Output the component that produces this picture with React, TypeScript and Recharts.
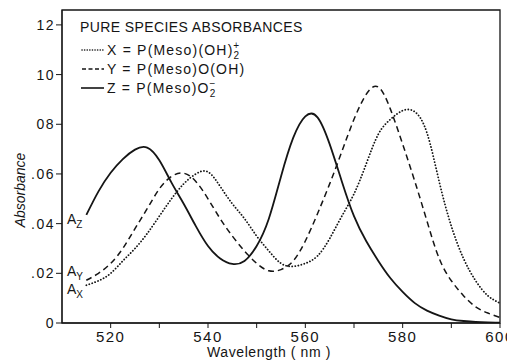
import React from "react";
import {
  LineChart,
  Line,
  XAxis,
  YAxis,
  ReferenceArea,
} from "recharts";

// wavelength grid (nm)
const wavelengths = [
  515, 517.5, 520, 522.5, 525, 527.5, 530, 532.5, 535, 537.5, 540, 542.5,
  545, 547.5, 550, 552.5, 555, 557.5, 560, 562.5, 565, 567.5, 570, 572.5,
  575, 577.5, 580, 582.5, 585, 587.5, 590, 592.5, 595, 597.5, 600,
];

// X = P(Meso)(OH)2+  (dotted)
const absX = [
  0.0152, 0.017, 0.02, 0.025, 0.03, 0.036, 0.043, 0.05, 0.056, 0.06, 0.0608, 0.055,
  0.048, 0.042, 0.035, 0.029, 0.024, 0.0228, 0.024, 0.027, 0.034, 0.043, 0.052, 0.064,
  0.076, 0.082, 0.0855, 0.085, 0.0765, 0.057, 0.039, 0.026, 0.017, 0.011, 0.008,
];

// Y = P(Meso)O(OH)  (dashed)
const absY = [
  0.0172, 0.02, 0.024, 0.03, 0.038, 0.046, 0.054, 0.059, 0.0603, 0.057, 0.05, 0.042,
  0.035, 0.029, 0.024, 0.021, 0.0215, 0.025, 0.033, 0.044, 0.056, 0.069, 0.082, 0.092,
  0.095, 0.086, 0.072, 0.057, 0.041, 0.026, 0.017, 0.011, 0.0065, 0.004, 0.0022,
];

// Z = P(Meso)O2-  (solid)
const absZ = [
  0.0435, 0.053, 0.0605, 0.066, 0.0698, 0.0706, 0.0655, 0.0565, 0.048, 0.039, 0.031, 0.026,
  0.0238, 0.025, 0.031, 0.042, 0.059, 0.0745, 0.0832, 0.0828, 0.072, 0.057, 0.043, 0.033,
  0.025, 0.018, 0.0125, 0.008, 0.005, 0.003, 0.0015, 0.0008, 0.0004, 0.0002, 0.0001,
];

const xTicks = [520, 530, 540, 550, 560, 570, 580, 590, 600];
const xTickLabels = ["520", "", "540", "", "560", "", "580", "", "600"];
const yTicks = [0, 0.02, 0.04, 0.06, 0.08, 0.1, 0.12];
const yTickLabels = ["0", ".02", ".04", ".06", "08", "10", "12"];

const INK = "#151515";
const FONT = "'Liberation Sans', Arial, sans-serif";

const data = wavelengths.map((w, i) => ({
  nm: w,
  x: absX[i],
  y: absY[i],
  z: absZ[i],
}));

export default function App() {
  return (
    <div style={{ position: "relative", width: 507, height: 352, fontFamily: FONT }}>
      <LineChart
        width={507}
        height={352}
        data={data}
        margin={{ top: 2, right: 15, bottom: 7, left: 14 }}
      >
        <XAxis
          dataKey="nm"
          type="number"
          domain={[510, 600]}
          ticks={xTicks}
          tickFormatter={(v) => xTickLabels[xTicks.indexOf(v)] ?? ""}
          height={30}
          tickSize={5}
          tickMargin={3}
          stroke={INK}
          tick={{ fill: INK, fontSize: 15, fontFamily: FONT, letterSpacing: 1.5 }}
          allowDataOverflow
        />
        <YAxis
          type="number"
          domain={[0, 0.126]}
          ticks={yTicks}
          tickFormatter={(v) => yTickLabels[yTicks.indexOf(v)] ?? ""}
          width={40}
          tickSize={6}
          tickMargin={1}
          stroke={INK}
          tick={{ fill: INK, fontSize: 14, fontFamily: FONT, letterSpacing: 1.5 }}
          allowDataOverflow
        />
        <ReferenceArea
          x1={510}
          x2={600}
          y1={0}
          y2={0.126}
          fill="none"
          stroke={INK}
          strokeWidth={1.3}
          ifOverflow="visible"
        />
        <Line
          dataKey="x"
          type="natural"
          stroke={INK}
          strokeWidth={1.8}
          strokeDasharray="0.1 3"
          strokeLinecap="round"
          dot={false}
          isAnimationActive={false}
        />
        <Line
          dataKey="y"
          type="natural"
          stroke={INK}
          strokeWidth={1.5}
          strokeDasharray="6 4"
          dot={false}
          isAnimationActive={false}
        />
        <Line
          dataKey="z"
          type="natural"
          stroke={INK}
          strokeWidth={1.8}
          dot={false}
          isAnimationActive={false}
        />
      </LineChart>

      <svg
        width={507}
        height={352}
        style={{ position: "absolute", left: 0, top: 0, pointerEvents: "none" }}
        fontFamily={FONT}
        fill={INK}
      >
        {/* legend */}
        <text x={72} y={24} fontSize={14} letterSpacing={0.4}>
          PURE SPECIES ABSORBANCES
        </text>
        <line x1={74} x2={96} y1={42} y2={42} stroke={INK} strokeWidth={1.6} strokeDasharray="0.1 2.5" strokeLinecap="round" />
        <text x={99} y={47} fontSize={14} letterSpacing={1.2}>
          X = P(Meso)(OH)
          <tspan dy={4} fontSize={10}>2</tspan>
          <tspan dx={-7} dy={-10} fontSize={10}>+</tspan>
        </text>
        <line x1={74} x2={96} y1={61} y2={61} stroke={INK} strokeWidth={1.4} strokeDasharray="4 2.5" />
        <text x={99} y={66} fontSize={14} letterSpacing={1.2}>
          Y = P(Meso)O(OH)
        </text>
        <line x1={73} x2={96} y1={80} y2={80} stroke={INK} strokeWidth={1.6} />
        <text x={99} y={85} fontSize={14} letterSpacing={1.2}>
          Z = P(Meso)O
          <tspan dy={4} fontSize={10}>2</tspan>
          <tspan dx={-7} dy={-10} fontSize={10}>−</tspan>
        </text>

        {/* curve start labels */}
        <text x={59} y={216} fontSize={14}>
          A<tspan dy={4} fontSize={10}>Z</tspan>
        </text>
        <text x={59} y={268} fontSize={14}>
          A<tspan dy={4} fontSize={10}>Y</tspan>
        </text>
        <text x={59} y={286} fontSize={14}>
          A<tspan dy={4} fontSize={10}>X</tspan>
        </text>

        {/* axis titles */}
        <text
          x={0}
          y={0}
          fontSize={14}
          fontStyle="italic"
          textAnchor="middle"
          transform="translate(17 182) rotate(-90)"
        >
          Absorbance
        </text>
        <text x={261} y={349} fontSize={14} textAnchor="middle" letterSpacing={0.6}>
          Wavelength  ( nm )
        </text>
      </svg>
    </div>
  );
}
